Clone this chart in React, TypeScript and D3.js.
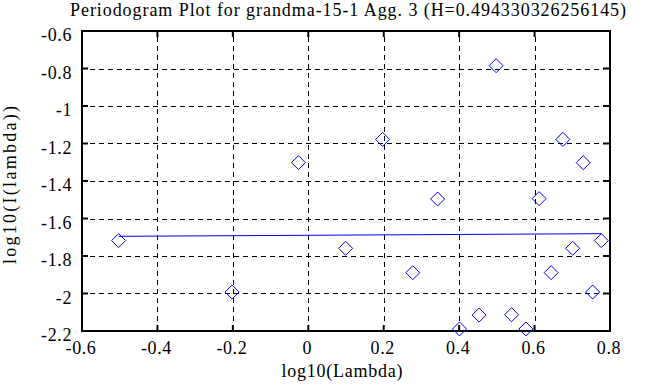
import { useEffect, useRef } from "react";
import * as d3 from "d3";

// log10(Lambda) for each periodogram ordinate
const logLambda = [
  -0.503, -0.202, -0.026, 0.099, 0.197, 0.277, 0.343, 0.401, 0.453, 0.498,
  0.539, 0.577, 0.612, 0.644, 0.675, 0.701, 0.729, 0.754, 0.777,
];
// log10(I(lambda))
const logPeriod = [
  -1.718, -1.992, -1.302, -1.759, -1.178, -1.889, -1.496, -2.189, -2.115, -0.785,
  -2.113, -2.189, -1.494, -1.889, -1.178, -1.759, -1.302, -1.992, -1.718,
];
// least squares fit, end points
const fitX = [-0.503, 0.777];
const fitY = [-1.695, -1.681];

const xTicks = [-0.6, -0.4, -0.2, 0, 0.2, 0.4, 0.6, 0.8];
const xTickLabels = ["-0.6", "-0.4", "-0.2", "0", "0.2", "0.4", "0.6", "0.8"];
const yTicks = [-0.6, -0.8, -1, -1.2, -1.4, -1.6, -1.8, -2, -2.2];
const yTickLabels = ["-0.6", "-0.8", "-1", "-1.2", "-1.4", "-1.6", "-1.8", "-2", "-2.2"];

const title = "Periodogram Plot for grandma-15-1 Agg. 3 (H=0.494330326256145)";

export default function App() {
  const svgRef = useRef<SVGSVGElement>(null);

  useEffect(() => {
    if (!svgRef.current) return;
    const W = 663;
    const H = 387;
    const left = 82, right = 610, top = 31, bottom = 331;
    const font = "'Liberation Serif', 'Times New Roman', serif";

    const svg = d3.select(svgRef.current);
    svg.selectAll("*").remove();
    svg.attr("width", W).attr("height", H);

    svg.append("rect").attr("width", W).attr("height", H).attr("fill", "#fff");

    const x = d3.scaleLinear().domain([-0.6, 0.8]).range([left, right]);
    const y = d3.scaleLinear().domain([-2.2, -0.6]).range([bottom, top]);

    // grid
    const grid = svg.append("g")
      .attr("stroke", "#000")
      .attr("stroke-width", 1)
      .attr("stroke-dasharray", "5,4")
      .attr("shape-rendering", "crispEdges");
    xTicks.slice(1, -1).forEach(t => {
      grid.append("line")
        .attr("x1", Math.round(x(t)) + 0.5).attr("x2", Math.round(x(t)) + 0.5)
        .attr("y1", top + 6).attr("y2", bottom - 6);
    });
    yTicks.slice(1, -1).forEach(t => {
      grid.append("line")
        .attr("y1", Math.round(y(t)) + 0.5).attr("y2", Math.round(y(t)) + 0.5)
        .attr("x1", left + 8).attr("x2", right - 6);
    });

    // ticks (inside on all four sides)
    const ticks = svg.append("g").attr("stroke", "#000").attr("stroke-width", 2);
    xTicks.forEach(t => {
      ticks.append("line").attr("x1", x(t)).attr("x2", x(t)).attr("y1", bottom).attr("y2", bottom - 6);
      ticks.append("line").attr("x1", x(t)).attr("x2", x(t)).attr("y1", top).attr("y2", top + 6);
    });
    yTicks.forEach(t => {
      ticks.append("line").attr("y1", y(t)).attr("y2", y(t)).attr("x1", left).attr("x2", left + 6);
      ticks.append("line").attr("y1", y(t)).attr("y2", y(t)).attr("x1", right).attr("x2", right - 7);
    });

    // frame
    svg.append("rect")
      .attr("x", left).attr("y", top)
      .attr("width", right - left).attr("height", bottom - top)
      .attr("fill", "none").attr("stroke", "#000").attr("stroke-width", 2);

    // fit line
    const line = d3.line<number>()
      .x((_, i) => x(fitX[i]))
      .y(d => y(d));
    svg.append("path")
      .datum(fitY)
      .attr("d", line)
      .attr("fill", "none")
      .attr("stroke", "#0000ff")
      .attr("stroke-width", 1);

    // diamonds
    const r = 7;
    svg.append("g")
      .selectAll("path")
      .data(logLambda.map((v, i) => [v, logPeriod[i]]))
      .enter()
      .append("path")
      .attr("d", d => {
        const cx = x(d[0]), cy = y(d[1]);
        return `M${cx - r},${cy}L${cx},${cy - r}L${cx + r},${cy}L${cx},${cy + r}Z`;
      })
      .attr("fill", "none")
      .attr("stroke", "#0000ff")
      .attr("stroke-width", 1);

    // tick labels
    const labels = svg.append("g")
      .attr("font-family", font)
      .attr("font-size", 18)
      .attr("letter-spacing", 0.6)
      .attr("fill", "#000");
    xTicks.forEach((t, i) => {
      labels.append("text")
        .attr("x", x(t) - 1).attr("y", 354)
        .attr("text-anchor", "middle")
        .text(xTickLabels[i]);
    });
    yTicks.forEach((t, i) => {
      labels.append("text")
        .attr("x", 72).attr("y", y(t) + 10)
        .attr("text-anchor", "end")
        .text(yTickLabels[i]);
    });

    // titles
    svg.append("text")
      .attr("x", 348).attr("y", 16)
      .attr("text-anchor", "middle")
      .attr("font-family", font).attr("font-size", 18)
      .attr("textLength", 556).attr("lengthAdjust", "spacing")
      .text(title);
    svg.append("text")
      .attr("x", 342).attr("y", 377)
      .attr("text-anchor", "middle")
      .attr("font-family", font).attr("font-size", 18)
      .attr("textLength", 121).attr("lengthAdjust", "spacing")
      .text("log10(Lambda)");
    svg.append("text")
      .attr("transform", "translate(16,185) rotate(-90)")
      .attr("text-anchor", "middle")
      .attr("font-family", font).attr("font-size", 18)
      .attr("textLength", 158).attr("lengthAdjust", "spacing")
      .text("log10(I(lambda))");
  }, []);

  return (
    <svg
      ref={svgRef}
      style={{ position: "absolute", left: 0, top: 0, display: "block" }}
    />
  );
}
